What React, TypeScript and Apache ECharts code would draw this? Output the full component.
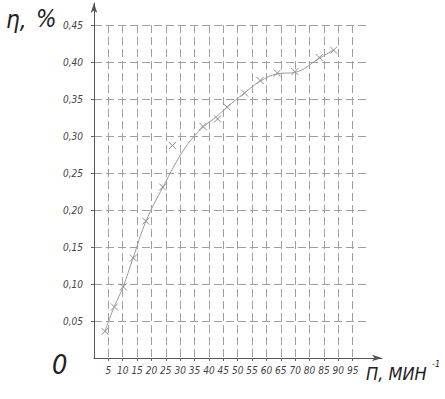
import React, { useEffect, useRef } from "react";
import * as echarts from "echarts";

// x ticks (drawn positions every 5 units; label list as printed, 75 is absent)
const xTickLabels = ["5", "10", "15", "20", "25", "30", "35", "40", "45", "50", "55", "60", "65", "70", "80", "85", "90", "95"];
const yTickLabels = ["0,05", "0,10", "0,15", "0,20", "0,25", "0,30", "0,35", "0,40", "0,45"];

// measured points (x in drawn axis units, y = efficiency)
const pointX = [3.8, 7.1, 10.2, 13.7, 18.0, 23.9, 27.3, 37.9, 43.0, 46.3, 52.4, 57.8, 63.8, 69.9, 78.4, 83.4];
const pointY = [0.036, 0.069, 0.096, 0.135, 0.185, 0.231, 0.287, 0.313, 0.323, 0.339, 0.358, 0.375, 0.385, 0.387, 0.406, 0.416];

// hand-drawn fitted curve
const curveX = [3.8, 7.0, 10.1, 13.6, 18.1, 24.0, 31.7, 38.0, 42.9, 46.3, 52.3, 57.8, 63.8, 70.0, 78.4, 83.3];
const curveY = [0.036, 0.069, 0.096, 0.135, 0.185, 0.231, 0.284, 0.312, 0.327, 0.339, 0.358, 0.374, 0.384, 0.386, 0.405, 0.416];

const FONT = "'DejaVu Sans Condensed', 'DejaVu Sans', sans-serif";

export default function App() {
  const ref = useRef<HTMLDivElement>(null);
  useEffect(() => {
    if (!ref.current) return;
    const chart = echarts.init(ref.current, undefined, { renderer: "svg" });
    const split = { show: true, showMinLine: false, lineStyle: { color: "#a0a0a0", width: 1, type: [8, 4] as any } };
    chart.setOption({
      animation: false,
      backgroundColor: "#fff",
      grid: [
        { left: 94, top: 25, width: 273, height: 333, containLabel: false },
        { left: 94, top: 3, width: 288, height: 355, containLabel: false },
      ],
      xAxis: [
        {
          type: "value", gridIndex: 0, min: 0, max: 95, interval: 5,
          axisLine: { show: false },
          axisTick: { show: true, length: 3, lineStyle: { color: "#666" } },
          splitLine: { ...split, showMaxLine: false },
          axisLabel: {
            show: true, margin: 7, fontSize: 10, fontStyle: "italic", fontFamily: FONT, color: "#444",
            showMinLabel: false, showMaxLabel: false,
            formatter: (v: number) => {
              const i = Math.round(v / 5) - 1;
              return i >= 0 && i < xTickLabels.length ? xTickLabels[i] : "";
            },
          },
        },
        {
          type: "value", gridIndex: 1, min: 0, max: 1,
          axisLine: { show: true, symbol: ["none", "arrow"], symbolSize: [5, 10], lineStyle: { color: "#555", width: 1 } },
          axisTick: { show: false }, axisLabel: { show: false }, splitLine: { show: false },
        },
      ],
      yAxis: [
        {
          type: "value", gridIndex: 0, min: 0, max: 0.45, interval: 0.05,
          axisLine: { show: false },
          axisTick: { show: true, length: 3, lineStyle: { color: "#666" } },
          splitLine: { ...split },
          axisLabel: {
            show: true, margin: 11, fontSize: 10, fontStyle: "italic", fontFamily: FONT, color: "#444",
            showMinLabel: false,
            formatter: (v: number) => {
              const i = Math.round(v / 0.05) - 1;
              return i >= 0 && i < yTickLabels.length ? yTickLabels[i] : "";
            },
          },
        },
        {
          type: "value", gridIndex: 1, min: 0, max: 1,
          axisLine: { show: true, symbol: ["none", "arrow"], symbolSize: [5, 10], lineStyle: { color: "#555", width: 1 } },
          axisTick: { show: false }, axisLabel: { show: false }, splitLine: { show: false },
        },
      ],
      series: [
        {
          type: "line", xAxisIndex: 0, yAxisIndex: 0, smooth: 0.4, showSymbol: false,
          lineStyle: { color: "#9a9a9a", width: 1 },
          data: curveX.map((x, i) => [x, curveY[i]]),
          silent: true,
        },
        {
          type: "scatter", xAxisIndex: 0, yAxisIndex: 0,
          symbol: "path://M0 0L10 10M10 0L0 10", symbolSize: 7,
          itemStyle: { color: "none", borderColor: "#707070", borderWidth: 1 },
          data: pointX.map((x, i) => [x, pointY[i]]),
        },
      ],
      graphic: [
        { type: "text", left: 6, top: 8, style: { text: "η,", font: `italic 24px ${FONT}`, fill: "#222" } },
        { type: "text", left: 36, top: 7, style: { text: "%", font: `italic 24px ${FONT}`, fill: "#222" } },
        { type: "text", left: 52, top: 351, style: { text: "0", font: `italic 27px ${FONT}`, fill: "#222" } },
        { type: "text", left: 366, top: 364, style: { text: "П, МИН", font: `italic 18px ${FONT}`, fill: "#222" } },
        { type: "text", left: 432, top: 359, style: { text: "-1", font: `italic 9px ${FONT}`, fill: "#222" } },
      ],
    });
    return () => chart.dispose();
  }, []);
  return <div ref={ref} style={{ position: "fixed", left: 0, top: 0, width: 445, height: 399 }} />;
}
